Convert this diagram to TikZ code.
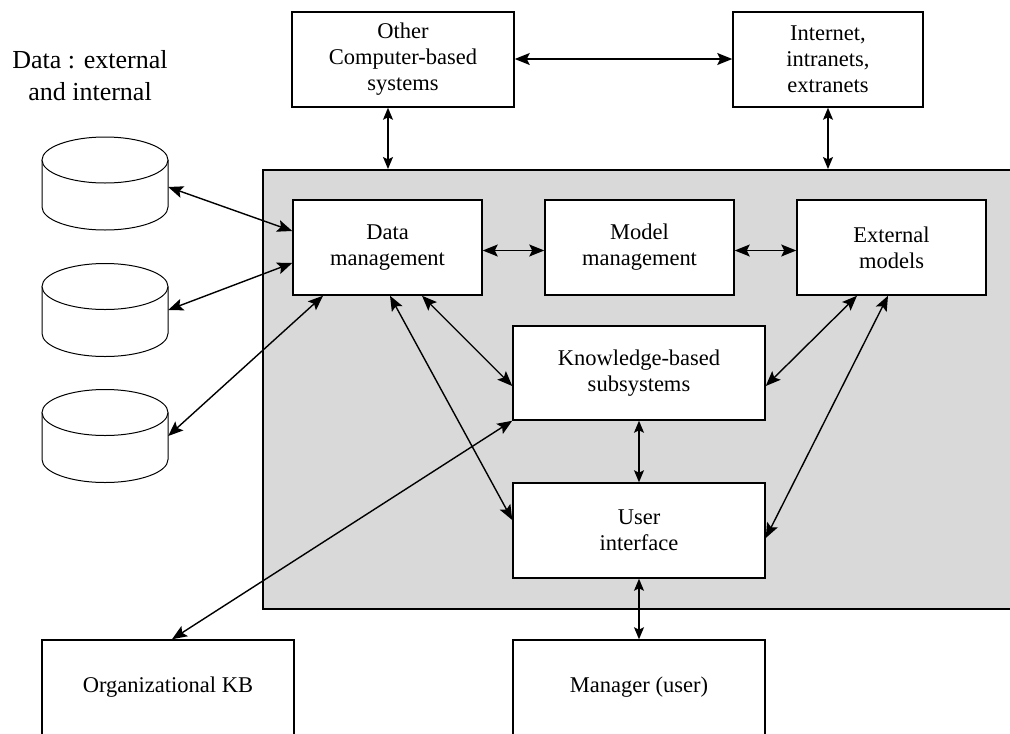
\documentclass[tikz,border=0pt]{standalone}
\usepackage{fontspec}
\setmainfont{Liberation Serif}
\usetikzlibrary{arrows.meta}
\definecolor{panelgray}{HTML}{D9D9D9}
\begin{document}
\begin{tikzpicture}[x=1pt,y=-1pt,
  box/.style={draw=black, line width=1.5pt, fill=white, align=center,
    font=\fontsize{22.5}{26}\selectfont, inner sep=0pt},
  cylframe/.style={minimum width=126pt, minimum height=93pt, inner sep=0pt},
  cylline/.style={draw=black, line width=1pt, fill=white},
  link/.style={line width=1.4pt,
    {Stealth[length=15pt,width=12pt,inset=3pt]}-{Stealth[length=15pt,width=12pt,inset=3pt]}},
  slink/.style={line width=1.2pt,
    {Stealth[length=12pt,width=10pt,inset=2.5pt]}-{Stealth[length=12pt,width=10pt,inset=2.5pt]}},
]
\useasboundingbox (0,0) rectangle (1010,734);
\clip (0,0) rectangle (1010,734);

% panel
\node[draw=black, line width=1.5pt, fill=panelgray, minimum width=760pt, minimum height=439pt,
      inner sep=0pt, anchor=north west] (sys) at (262,169) {};

% title
\node[font=\fontsize{26}{32}\selectfont, align=center, inner sep=0pt] (title) at (90,75.3)
  {Data : external\\and internal};

% top boxes
\node[box, minimum width=222pt, minimum height=95pt] (other) at (403,59.5)
  {Other\\Computer-based\\systems};
\node[box, minimum width=190pt, minimum height=95pt] (inet) at (828,59.5)
  {Internet,\\intranets,\\extranets};

% inner boxes
\node[box, minimum width=189pt, minimum height=95pt] (dm) at (387.5,247.5) {Data\\management};
\node[box, minimum width=189pt, minimum height=95pt] (mm) at (639.5,247.5) {Model\\management};
\node[box, minimum width=189pt, minimum height=95pt] (em) at (891.5,247.5) {External\\models};
\node[box, minimum width=252pt, minimum height=94pt] (kbs) at (639,373) {Knowledge-based\\subsystems};
\node[box, minimum width=252pt, minimum height=95pt] (ui) at (639,530.5) {User\\interface};

% bottom boxes
\node[box, minimum width=252pt, minimum height=95pt] (okb) at (168,687.5) {Organizational KB};
\node[box, minimum width=252pt, minimum height=95pt] (mgr) at (639,687.5) {Manager (user)};

% cylinders
\foreach \n/\cy in {cylA/183.5, cylB/310, cylC/436}{
  \node[cylframe] (\n) at (105,\cy) {};
  \path[cylline] (42,\cy-23.5) -- (42,\cy+23.5)
     arc[start angle=180, end angle=0, x radius=63, y radius=23] -- (168,\cy-23.5);
  \path[cylline] (105,\cy-23.5) ellipse [x radius=63, y radius=23];
}

% connectors
\draw[link] (other.east |- 0,59) -- (inet.west |- 0,59);
\draw[slink] ([xshift=-15pt]other.south) -- ([xshift=-15pt]other.south |- sys.north);
\draw[slink] (inet.south) -- (inet.south |- sys.north);

\draw[link] ([yshift=-3pt]dm.east) -- ([yshift=-3pt]mm.west);
\draw[link] ([yshift=-3pt]mm.east) -- ([yshift=-3pt]em.west);

\draw[link] ([yshift=-3.5pt]cylA.east) -- ([yshift=16.5pt]dm.west);
\draw[link] (cylB.east) -- ([yshift=-15.5pt]dm.west);
\draw[link] (cylC.east) -- ([xshift=-64.5pt]dm.south);

\draw[link] ([xshift=2.5pt]dm.south) -- ([yshift=10.5pt]ui.west);
\draw[link] ([xshift=34.5pt]dm.south) -- ([yshift=-13pt]kbs.west);
\draw[link] (kbs.south west) -- ([xshift=4pt]okb.north);

\draw[link] ([xshift=-34.5pt]em.south) -- ([yshift=-13pt]kbs.east);
\draw[link] ([xshift=-3.5pt]em.south) -- ([yshift=-7.5pt]ui.east);

\draw[slink] (kbs.south) -- (ui.north);
\draw[slink] (ui.south) -- (mgr.north);
\end{tikzpicture}
\end{document}
